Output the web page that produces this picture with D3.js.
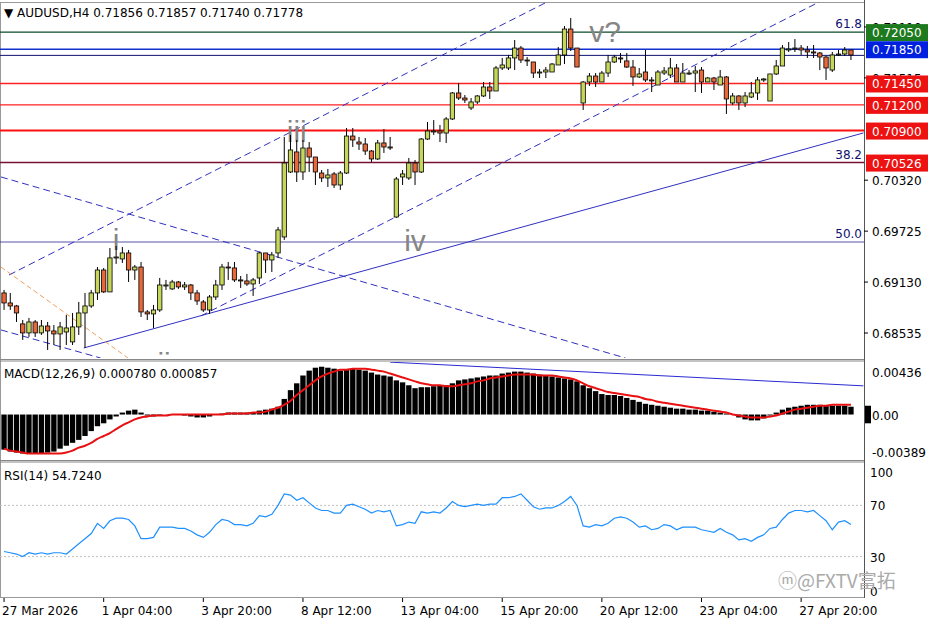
<!DOCTYPE html>
<html><head><meta charset="utf-8">
<script src="https://cdn.jsdelivr.net/npm/d3@7"></script>
<style>body{margin:0;background:#fff}svg{display:block;font-family:Tahoma,"DejaVu Sans",sans-serif}</style>
</head><body><svg id="chart" width="936" height="624"></svg>
<script>
// AUDUSD H4 bars (prices)
const openP = [.69003,.68886,.68851,.68641,.68536,.68664,.68536,.68617,.68559,.68524,.68547,.68431,.68606,.68769,.68851,.69003,.69271,.69015,.69412,.69400,.69470,.69271,.69306,.68781,.68758,.68804,.69096,.69050,.69131,.69073,.69096,.69003,.68898,.68804,.68956,.69096,.69306,.69295,.69155,.69143,.69108,.69178,.69470,.69388,.69470,.69657,.70416,.70650,.70416,.70696,.70591,.70404,.70346,.70393,.70264,.70404,.70836,.70766,.70743,.70661,.70568,.70755,.70708,.69890,.70358,.70346,.70521,.70416,.70801,.70895,.70895,.70871,.71035,.71339,.71280,.71164,.71234,.71304,.71409,.71362,.71631,.71631,.71748,.71864,.71724,.71701,.71572,.71584,.71584,.71666,.71783,.72086,.71864,.71222,.71467,.71537,.71467,.71572,.71701,.71748,.71713,.71642,.71526,.71584,.71491,.71432,.71572,.71549,.71631,.71467,.71572,.71572,.71607,.71467,.71514,.71432,.71526,.71222,.71304,.71222,.71292,.71339,.71491,.71245,.71561,.71654,.71841,.71853,.71864,.71841,.71818,.71806,.71759,.71607,.71783,.71794,.71841];
const highP = [.69038,.69003,.68863,.68687,.68711,.68687,.68687,.68664,.68629,.68664,.68746,.68769,.68898,.69003,.69038,.69306,.69295,.69528,.69552,.69540,.69505,.69330,.69365,.68804,.68863,.69178,.69155,.69155,.69143,.69131,.69108,.69038,.68921,.68979,.69155,.69342,.69365,.69365,.69201,.69225,.69178,.69482,.69470,.69482,.69774,.70825,.70848,.70790,.70790,.70766,.70591,.70439,.70451,.70416,.70428,.70930,.70930,.70825,.70813,.70673,.70790,.70918,.70825,.70358,.70439,.70580,.70556,.70813,.71000,.71023,.70965,.71058,.71350,.71456,.71315,.71280,.71315,.71467,.71467,.71654,.71748,.71783,.71958,.71888,.71759,.71701,.71619,.71642,.71689,.71876,.72121,.72215,.71864,.71479,.71572,.71572,.71596,.71783,.71783,.71806,.71806,.71724,.71631,.71841,.71526,.71607,.71642,.71748,.71677,.71689,.71607,.71654,.71642,.71526,.71526,.71607,.71537,.71339,.71315,.71350,.71467,.71526,.71514,.71561,.71724,.71899,.71934,.71969,.71899,.71888,.71899,.71818,.71771,.71818,.71841,.71876,.71841];
const lowP = [.68804,.68804,.68664,.68454,.68489,.68489,.68512,.68337,.68395,.68337,.68395,.68395,.68512,.68360,.68828,.68921,.69003,.69015,.69342,.69353,.69131,.69155,.68722,.68687,.68594,.68781,.69038,.69038,.69050,.69038,.68921,.68863,.68781,.68758,.68921,.69038,.69155,.69131,.69061,.69085,.68968,.69108,.69236,.69248,.69412,.69622,.70404,.70299,.70323,.70416,.70264,.70299,.70241,.70229,.70206,.70393,.70708,.70673,.70615,.70533,.70556,.70638,.70673,.69879,.70264,.70323,.70264,.70404,.70790,.70848,.70766,.70755,.71023,.71257,.71222,.71140,.71210,.71292,.71269,.71362,.71607,.71607,.71607,.71689,.71654,.71514,.71514,.71514,.71584,.71666,.71677,.71829,.71642,.71140,.71421,.71409,.71467,.71526,.71689,.71689,.71631,.71421,.71514,.71467,.71350,.71432,.71549,.71514,.71467,.71467,.71549,.71350,.71339,.71467,.71374,.71432,.71094,.71199,.71140,.71175,.71280,.71257,.71467,.71245,.71549,.71654,.71818,.71818,.71783,.71748,.71748,.71607,.71491,.71584,.71771,.71771,.71724];
const closeP = [.68886,.68851,.68769,.68536,.68664,.68536,.68617,.68559,.68524,.68606,.68594,.68606,.68769,.68851,.69003,.69271,.69015,.69412,.69423,.69470,.69271,.69306,.68781,.68758,.68804,.69096,.69096,.69131,.69073,.69096,.69003,.68909,.68804,.68956,.69096,.69306,.69295,.69155,.69143,.69108,.69155,.69470,.69388,.69447,.69739,.70521,.70673,.70416,.70696,.70591,.70416,.70346,.70381,.70264,.70404,.70836,.70790,.70743,.70661,.70568,.70755,.70708,.70708,.70334,.70393,.70521,.70416,.70801,.70895,.70895,.70871,.71035,.71339,.71280,.71257,.71234,.71304,.71409,.71362,.71631,.71666,.71748,.71864,.71724,.71713,.71572,.71584,.71607,.71677,.71783,.72086,.71864,.71642,.71467,.71537,.71467,.71572,.71701,.71759,.71736,.71642,.71526,.71561,.71491,.71491,.71584,.71596,.71631,.71467,.71572,.71572,.71596,.71467,.71514,.71467,.71526,.71269,.71304,.71222,.71304,.71339,.71491,.71502,.71561,.71654,.71864,.71853,.71864,.71841,.71818,.71806,.71759,.71631,.71783,.71794,.71841,.71783];

const macdHist = [-.0036,-.0038,-.0039,-.0040,-.0040,-.0040,-.0040,-.0039,-.0038,-.0035,-.0032,-.0029,-.0026,-.0022,-.0017,-.0012,-.0009,-.0005,-.0002,.0002,.0004,.0005,.0002,-.0001,-.0002,-.0001,0,0,0,-.0001,-.0002,-.0003,-.0003,-.0002,0,.0001,.0002,.0002,.0002,.0002,.0002,.0004,.0005,.0006,.0008,.0016,.0025,.0032,.0040,.0045,.0048,.0049,.0048,.0047,.0045,.0046,.0047,.0046,.0045,.0043,.0041,.0040,.0039,.0035,.0033,.0030,.0027,.0028,.0028,.0029,.0030,.0030,.0032,.0035,.0036,.0037,.0038,.0039,.0040,.0040,.0042,.0043,.0044,.0044,.0043,.0042,.0041,.0040,.0039,.0038,.0037,.0036,.0034,.0030,.0027,.0024,.0021,.0020,.0020,.0019,.0017,.0015,.0013,.0011,.0010,.0009,.0008,.0007,.0006,.0006,.0005,.0005,.0004,.0004,.0003,.0002,.0001,0,-.0003,-.0005,-.0006,-.0006,-.0004,-.0001,.0002,.0005,.0007,.0008,.0009,.0010,.0010,.0010,.0009,.0009,.0009,.0009,.0008];
const macdSignal = [-.0035,-.0037,-.0038,-.0039,-.0040,-.0040,-.0040,-.0040,-.0040,-.0040,-.0039,-.0037,-.0034,-.0032,-.0029,-.0025,-.0022,-.0019,-.0015,-.0011,-.0008,-.0005,-.0003,-.0002,-.0001,-.0001,-.0001,0,0,0,0,0,0,0,0,0,.0001,.0001,.0001,.0001,.0002,.0002,.0003,.0005,.0007,.0010,.0014,.0020,.0025,.0030,.0035,.0039,.0042,.0044,.0046,.0046,.0047,.0047,.0047,.0046,.0045,.0044,.0042,.0040,.0038,.0036,.0034,.0032,.0031,.0030,.0030,.0029,.0029,.0030,.0031,.0032,.0034,.0035,.0037,.0038,.0039,.0040,.0041,.0041,.0041,.0041,.0040,.0040,.0040,.0039,.0038,.0037,.0035,.0032,.0029,.0027,.0025,.0023,.0022,.0021,.0020,.0019,.0018,.0016,.0015,.0013,.0012,.0011,.0010,.0009,.0008,.0007,.0006,.0005,.0004,.0003,.0002,0,-.0001,-.0002,-.0003,-.0003,-.0003,-.0002,-.0001,.0001,.0003,.0005,.0006,.0007,.0008,.0009,.0009,.0010,.0010,.0010,.0010];
const rsi = [34,33,32,30,33,32,33,32,33,33,32,36,40,44,48,56,52,58,60,60,59,54,44,44,45,53,53,53,52,52,50,47,45,49,55,59,58,55,55,54,56,62,61,63,70,79,78,74,76,72,68,66,66,64,64,70,71,69,67,64,66,65,66,54,55,57,56,65,64,65,64,68,73,70,69,70,71,70,71,71,76,76,77,79,74,69,67,68,68,70,73,77,70,54,53,55,54,56,60,61,60,57,53,54,51,52,55,54,51,53,53,53,51,50,49,52,49,47,43,44,42,45,47,52,53,59,64,66,66,65,66,62,58,51,57,58,55];

const tickBars = [0,16,32,48,64,80,96,112,128];
const tickLabels = ["27 Mar 2026","1 Apr 04:00","3 Apr 20:00","8 Apr 12:00","13 Apr 04:00","15 Apr 20:00","20 Apr 12:00","23 Apr 04:00","27 Apr 20:00"];
const priceTicks = [0.72110,0.71515,0.70320,0.69725,0.69130,0.68535];
const levelPrices = [0.72050,0.71850,0.71450,0.71200,0.70900,0.70526];
const levelColors = ["#1e7a1e","#0020e0","#ee1111","#ee1111","#ee1111","#ee1111"];
const levelLines = ["#0b4a2a","#1530d0","#ff2020","#ff2020","#ff1010","#7a1030"];
const bidPrice = 0.71778;
const fibLevels = [[61.8,0.72050],[38.2,0.70526],[50.0,0.69598]];
// trendlines as [bar, price] endpoints
const trendDashed = [[[0.8,.69213],[87.2,.72402]],[[31.6,.68734],[130.9,.72402]],[[-0.5,.70358],[99.8,.68243]],[[-0.5,.68571],[15.5,.68243]]];
const trendSolid = [[12.8,.68360],[138,.70872]];
const trendOrange = [[-0.5,.69306],[19.9,.68243]];
const macdTrend = [[62,.00537],[138,.00294]];
const waves = [["i",18,.69505],["ii",25.7,.68060],["iii",47,.70766],["iv",66,.69490],["v?",96.5,.71934]];

const svg = d3.select("#chart");
const W = 864;
const n = closeP.length;
const x = d3.scaleBand().domain(d3.range(n)).range([0, 855]).padding(0.3);
const xi = d3.scaleLinear().domain([0, n - 1]).range([x(0) + x.bandwidth()/2, x(n-1) + x.bandwidth()/2]);
const y = d3.scaleLinear().domain([0.68243, 0.72425]).range([358, 0]);
const ym = d3.scaleLinear().domain([-0.00456, 0.00436]).range([459, 372]);
const yr = d3.scaleLinear().domain([0, 100]).range([595, 467]);

svg.append("defs").append("clipPath").attr("id","main").append("rect").attr("x",0).attr("y",2).attr("width",W).attr("height",356);
svg.append("clipPath").attr("id","mc").append("rect").attr("x",0).attr("y",362).attr("width",W).attr("height",98);

// frames
svg.append("rect").attr("x",0.5).attr("y",2.5).attr("width",W).attr("height",595).attr("fill","none").attr("stroke","#999");
[359.5,361,460.5,462].forEach(v => svg.append("line").attr("x1",0).attr("x2",W).attr("y1",v).attr("y2",v).attr("stroke","#888").attr("stroke-width",1.2));

const main = svg.append("g").attr("clip-path","url(#main)");
// horizontal levels
levelPrices.forEach((p,i) => main.append("line").attr("x1",0).attr("x2",W).attr("y1",y(p)).attr("y2",y(p))
  .attr("stroke",levelLines[i]).attr("stroke-width", i===4 ? 2 : 1.4));
main.append("line").attr("x1",0).attr("x2",W).attr("y1",y(bidPrice)).attr("y2",y(bidPrice)).attr("stroke","#101070").attr("stroke-width",1);
main.append("line").attr("x1",0).attr("x2",W).attr("y1",y(fibLevels[2][1])).attr("y2",y(fibLevels[2][1])).attr("stroke","#2a2a90").attr("stroke-width",0.8);
fibLevels.forEach(f => main.append("text").attr("x",W-2).attr("y",y(f[1])-4).attr("text-anchor","end")
  .attr("font-size",12).attr("fill","#101070").text(f[0].toFixed(1)));

const seg = (g, pts, col, dash, w) => g.append("line").attr("x1",xi(pts[0][0])).attr("y1",y(pts[0][1]))
  .attr("x2",xi(pts[1][0])).attr("y2",y(pts[1][1])).attr("stroke",col).attr("stroke-width",w).attr("stroke-dasharray",dash);
trendDashed.forEach(t => seg(main, t, "#3030c0", "7,4", 1));
seg(main, trendSolid, "#3030c0", null, 1);
seg(main, trendOrange, "#f0a060", "5,3", 1);

// wave labels
waves.forEach(w => main.append("text").attr("x",xi(w[1])).attr("y",y(w[2])).attr("text-anchor","middle")
  .attr("font-size",30).attr("fill","#858585").attr("font-family","'Liberation Sans',Arial,sans-serif").text(w[0]));

// candles
const c = main.selectAll("g.c").data(d3.range(n)).join("g");
c.append("line").attr("x1",i=>xi(i)).attr("x2",i=>xi(i)).attr("y1",i=>y(highP[i])).attr("y2",i=>y(lowP[i])).attr("stroke","#000");
c.append("rect").attr("x",i=>x(i)).attr("width",x.bandwidth())
  .attr("y",i=>y(Math.max(openP[i],closeP[i])))
  .attr("height",i=>Math.max(1,Math.abs(y(openP[i])-y(closeP[i]))))
  .attr("fill",i=>closeP[i]>=openP[i] ? "#c5d65a" : "#e8683a").attr("stroke","#000").attr("stroke-width",0.8);

// header
svg.append("text").attr("x",4).attr("y",17).attr("font-size",12).attr("fill","#000")
  .text("\u25BC  AUDUSD,H4  0.71856 0.71857 0.71740 0.71778");

// right price axis
svg.append("line").attr("x1",W+0.5).attr("x2",W+0.5).attr("y1",0).attr("y2",598).attr("stroke","#555");
const ax = svg.append("g").attr("font-size",12);
priceTicks.forEach(p => {
  ax.append("line").attr("x1",W).attr("x2",W+4).attr("y1",y(p)).attr("y2",y(p)).attr("stroke","#000");
  ax.append("text").attr("x",W+8).attr("y",y(p)+5).text(p.toFixed(5));
});
levelPrices.forEach((p,i) => {
  ax.append("rect").attr("x",W+2).attr("y",y(p)-8).attr("width",62).attr("height",17).attr("fill",levelColors[i]);
  ax.append("text").attr("x",W+8).attr("y",y(p)+5).attr("fill","#fff").text(p.toFixed(5));
});

// MACD
const mg = svg.append("g").attr("clip-path","url(#mc)");
mg.selectAll("rect").data(d3.range(n)).join("rect")
  .attr("x",i=>x(i)-0.5).attr("width",x.bandwidth()+1)
  .attr("y",i=>Math.min(ym(0),ym(macdHist[i]))).attr("height",i=>Math.abs(ym(macdHist[i])-ym(0))).attr("fill","#000");
mg.append("path").datum(d3.range(n)).attr("fill","none").attr("stroke","#e81010").attr("stroke-width",2)
  .attr("d",d3.line().x(i=>xi(i)).y(i=>ym(macdSignal[i])).curve(d3.curveMonotoneX));
mg.append("line").attr("x1",xi(macdTrend[0][0])).attr("y1",ym(macdTrend[0][1])).attr("x2",xi(macdTrend[1][0])).attr("y2",ym(macdTrend[1][1]))
  .attr("stroke","#2a2ad0").attr("stroke-width",1);
svg.append("text").attr("x",4).attr("y",378).attr("font-size",12).text("MACD(12,26,9) 0.000780 0.000857");
[[0.00436,"0.00436"],[0,"0.00"],[-0.00389,"-0.00389"]].forEach(d => {
  ax.append("text").attr("x",W+8).attr("y",ym(d[0])+5).text(d[1]);
});
ax.append("rect").attr("x",W+1).attr("y",ym(0.0009)).attr("width",6).attr("height",ym(-0.0009)-ym(0.0009)).attr("fill","#000");

// RSI
[70,30].forEach(v => svg.append("line").attr("x1",0).attr("x2",W).attr("y1",yr(v)).attr("y2",yr(v))
  .attr("stroke","#c0c0c0").attr("stroke-dasharray","2,2"));
svg.append("path").datum(d3.range(n)).attr("fill","none").attr("stroke","#1e90ff").attr("stroke-width",1.2)
  .attr("d",d3.line().x(i=>xi(i)).y(i=>yr(rsi[i])));
svg.append("text").attr("x",4).attr("y",480).attr("font-size",12).text("RSI(14) 54.7240");
[[100,"100"],[70,"70"],[30,"30"],[0,"0"]].forEach(d => ax.append("text").attr("x",W+6).attr("y",yr(d[0])+(d[0]===100?10:d[0]===0?1:5)).text(d[1]));

// time axis
tickBars.forEach((b,i) => {
  svg.append("line").attr("x1",xi(b)).attr("x2",xi(b)).attr("y1",598).attr("y2",602).attr("stroke","#000");
  svg.append("text").attr("x",xi(b)-2).attr("y",615).attr("font-size",12).text(tickLabels[i]);
});

// watermark
svg.append("text").attr("x",778).attr("y",588).attr("font-size",19).attr("fill","#aaaaaa")
  .attr("font-family","'Noto Sans CJK SC',sans-serif").text("\u24DC@FXTV富拓");
</script></body></html>
